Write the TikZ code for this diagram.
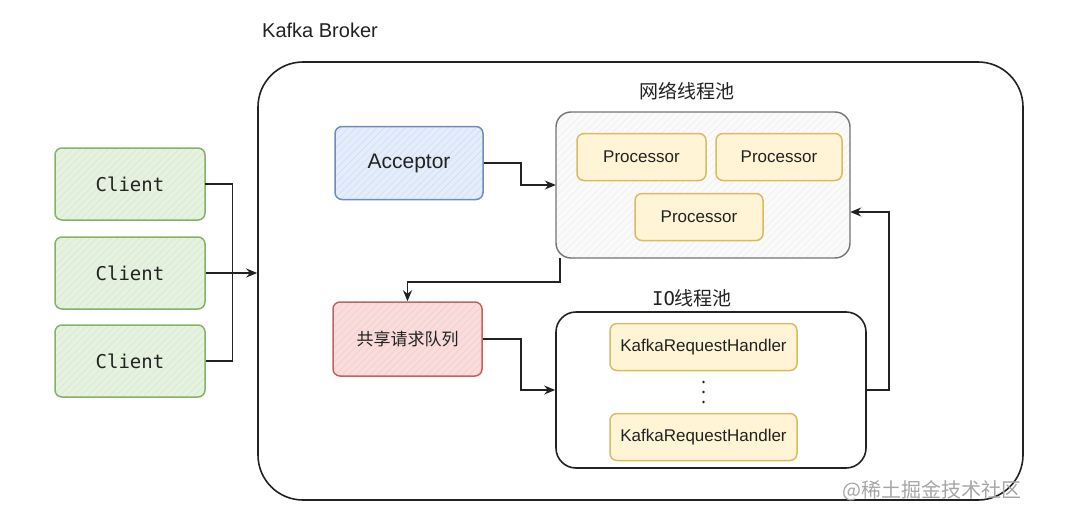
\documentclass[tikz,border=0pt]{standalone}
\usepackage{fontspec}
\setmainfont{Liberation Sans}
\setmonofont{DejaVu Sans Mono}
\newfontfamily\cjk{Noto Sans CJK SC}
\usetikzlibrary{arrows.meta,patterns.meta}
\definecolor{gbord}{HTML}{82B366}
\definecolor{gfill}{HTML}{E6F2E0}
\definecolor{bbord}{HTML}{6C8EBF}
\definecolor{bfill}{HTML}{E3EDFB}
\definecolor{rbord}{HTML}{C7615D}
\definecolor{rfill}{HTML}{F9DCDB}
\definecolor{ybord}{HTML}{D9BC5E}
\definecolor{yfill}{HTML}{FFF5D6}
\definecolor{linec}{HTML}{222222}
\tikzset{
  hatchbox/.style n args={2}{draw=#1, line width=1.5pt, rounded corners=7pt,
    preaction={fill=#2},
    pattern={Lines[angle=45,distance=5pt,line width=0.6pt]}, pattern color=#1!30,
    inner sep=0pt},
  clientbox/.style={hatchbox={gbord}{gfill}, minimum width=150pt, minimum height=72pt,
    font=\ttfamily\fontsize{19}{21}\selectfont, text=linec},
  procbox/.style={draw=ybord, line width=1.5pt, rounded corners=7pt, fill=yfill,
    minimum height=47pt, inner sep=0pt, font=\fontsize{17}{19}\selectfont, text=linec},
  conn/.style={draw=linec, line width=1.5pt},
  arr/.style={conn, -{Stealth[length=11pt,width=9pt]}},
  lbl/.style={font=\fontsize{20}{22}\selectfont, text=linec, inner sep=0pt}
}
\begin{document}
\begin{tikzpicture}[x=1pt,y=-1pt]
\useasboundingbox (0,0) rectangle (1073,519);
% broker
\node[draw=linec, line width=1.6pt, rounded corners=45pt, minimum width=765pt, minimum height=438pt, inner sep=0pt] (broker) at (640.5,281) {};
\node[lbl] (brokerlbl) at (320,30) {Kafka Broker};
% clients
\node[clientbox] (c1) at (130,184) {Client};
\node[clientbox] (c2) at (130,273) {Client};
\node[clientbox] (c3) at (130,361) {Client};
\draw[conn] (c1.east) -- ++(27,0) |- (c3.east);
\draw[arr, line width=2.2pt] (c2.east) -- (broker.west |- c2.east);
% acceptor
\node[hatchbox={bbord}{bfill}, minimum width=148pt, minimum height=73pt,
  font=\fontsize{21}{23}\selectfont, text=linec] (acc) at (409,163) {Acceptor};
% network pool
\node[draw=black!55, line width=1.4pt, rounded corners=15pt,
  pattern={Lines[angle=45,distance=5pt,line width=0.4pt]}, pattern color=black!7,
  preaction={fill=black!2},
  minimum width=294pt, minimum height=146pt, inner sep=0pt] (np) at (703,185) {};
\node[lbl, font=\cjk\fontsize{19}{21}\selectfont] (nplbl) at (687,91) {网络线程池};
\node[procbox, minimum width=129pt] (p1) at (641.5,157) {Processor};
\node[procbox, minimum width=126pt] (p2) at (779,157) {Processor};
\node[procbox, minimum width=128pt] (p3) at (699,217) {Processor};
\draw[arr] (acc.east) -- ++(37,0) |- (np.west);
% queue
\node[hatchbox={rbord}{rfill}, minimum width=149pt, minimum height=74pt,
  font=\cjk\fontsize{17}{19}\selectfont, text=linec] (q) at (407.5,339) {共享请求队列};
\draw[arr] ([xshift=4pt]np.south west) -- ++(0,24) -| (q.north);
% io pool
\node[draw=linec, line width=1.6pt, rounded corners=20pt, fill=white,
  minimum width=310pt, minimum height=156pt, inner sep=0pt] (io) at (711,390) {};
\node[lbl, font=\fontsize{19}{21}\selectfont] (iolbl) at (692,298) {{\ttfamily IO}{\cjk 线程池}};
\node[procbox, minimum width=187pt] (h1) at (703.5,347) {KafkaRequestHandler};
\node[procbox, minimum width=187pt] (h2) at (703.5,437) {KafkaRequestHandler};
\foreach \yy/\nm in {382/d1,392/d2,402/d3}
  \node[fill=linec, circle, inner sep=0pt, minimum size=2.8pt] (\nm) at (703.5,\yy) {};
\draw[arr] (q.east) -- ++(38,0) |- (io.west);
\draw[arr] (io.east) -- ++(22,0) |- ([yshift=-27pt]np.east);
% watermark
\node[font=\cjk\fontsize{20}{22}\selectfont, text=black!35, inner sep=0pt] (wm) at (932,491) {@稀土掘金技术社区};
\end{tikzpicture}
\end{document}
